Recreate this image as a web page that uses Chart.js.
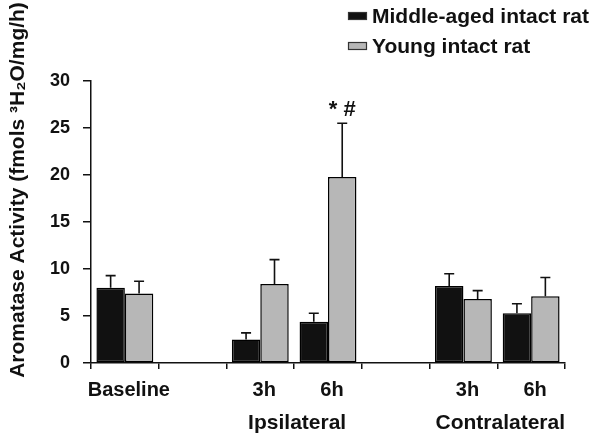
<!DOCTYPE html>
<html>
<head>
<meta charset="utf-8">
<script src="https://cdn.jsdelivr.net/npm/chart.js@4"></script>
<style>
html,body{margin:0;padding:0;background:#fff;}
#wrap{position:relative;width:600px;height:443px;}
</style>
</head>
<body>
<div id="wrap"><canvas id="c" width="600" height="443"></canvas></div>
<script>
const categories = ['Baseline', '', '3h', '6h', '', '3h', '6h'];
const groupLabels = [{text: 'Ipsilateral', at: 2.5}, {text: 'Contralateral', at: 5.5}];
const seriesNames = ['Middle-aged intact rat', 'Young intact rat'];
const middleAged = [8.0, null, 2.5, 4.4, null, 8.2, 5.3];
const middleAgedErr = [9.3, null, 3.2, 5.3, null, 9.5, 6.3];
const young = [7.4, null, 8.4, 19.8, null, 6.8, 7.1];
const youngErr = [8.7, null, 11.0, 25.5, null, 7.7, 9.1];
const yTicks = [0, 5, 10, 15, 20, 25, 30];
const yTitle = 'Aromatase Activity (fmols \u00B3H\u2082O/mg/h)';
const annotation = {text: '* #', at: 3, series: 1};

const FONT = '"Liberation Sans", Arial, sans-serif';
const colors = ['#111111', '#b7b7b7'];

const extras = {
  id: 'extras',
  afterDatasetsDraw(chart) {
    const ctx = chart.ctx;
    const y = chart.scales.y;
    const x = chart.scales.x;
    const errs = [middleAgedErr, youngErr];
    ctx.save();
    ctx.strokeStyle = '#111';
    ctx.lineWidth = 1.6;
    chart.data.datasets.forEach((ds, di) => {
      const meta = chart.getDatasetMeta(di);
      meta.data.forEach((bar, i) => {
        const v = ds.data[i];
        const e = errs[di][i];
        if (v == null || e == null) return;
        const bx = bar.x;
        const yt = y.getPixelForValue(e);
        const yb = y.getPixelForValue(v);
        ctx.beginPath();
        ctx.moveTo(bx, yb); ctx.lineTo(bx, yt);
        ctx.moveTo(bx - 5, yt); ctx.lineTo(bx + 5, yt);
        ctx.stroke();
      });
    });
    // annotation
    const meta = chart.getDatasetMeta(annotation.series);
    const bar = meta.data[annotation.at];
    ctx.fillStyle = '#111';
    ctx.font = 'bold 22px ' + FONT;
    ctx.textAlign = 'center';
    ctx.textBaseline = 'middle';
    ctx.fillText(annotation.text, bar.x, y.getPixelForValue(youngErr[annotation.at]) - 13);
    // group labels
    ctx.font = 'bold 21px ' + FONT;
    groupLabels.forEach(g => {
      ctx.fillText(g.text, x.getPixelForValue(g.at) + 3, 423);
    });
    // y title
    ctx.save();
    ctx.translate(18, 190);
    ctx.rotate(-Math.PI / 2);
    ctx.font = 'bold 21px ' + FONT;
    ctx.fillText(yTitle, 0, 0);
    ctx.restore();
    // legend
    ctx.textAlign = 'left';
    ctx.font = 'bold 21px ' + FONT;
    const items = [[colors[0], 16], [colors[1], 46]];
    items.forEach((it, i) => {
      ctx.fillStyle = it[0];
      ctx.fillRect(348, it[1] - 4, 19, 8);
      ctx.strokeStyle = '#333';
      ctx.lineWidth = 1.2;
      ctx.strokeRect(348.5, it[1] - 3.5, 18, 7);
      ctx.fillStyle = '#111';
      ctx.fillText(seriesNames[i], 372, it[1] + 1);
    });
    ctx.restore();
  }
};

new Chart(document.getElementById('c'), {
  type: 'bar',
  data: {
    labels: categories,
    datasets: [
      {label: seriesNames[0], data: middleAged, backgroundColor: colors[0], borderColor: '#000', borderWidth: 1.5, borderSkipped: false},
      {label: seriesNames[1], data: young, backgroundColor: colors[1], borderColor: '#000', borderWidth: 1.5, borderSkipped: false}
    ]
  },
  options: {
    responsive: false,
    animation: false,
    layout: {padding: {left: 0, right: 35, top: 81, bottom: 0}},
    plugins: {legend: {display: false}, tooltip: {enabled: false}},
    datasets: {bar: {categoryPercentage: 0.84, barPercentage: 1.0}},
    scales: {
      x: {
        grid: {display: true, drawOnChartArea: false, offset: true, color: '#111', tickLength: 6, lineWidth: 1.5},
        border: {color: '#111', width: 1.5},
        ticks: {color: '#111', font: {family: FONT, size: 20, weight: 'bold'}, padding: 9, labelOffset: 4, maxRotation: 0, autoSkip: false},
        afterFit(s) { s.height = 80; }
      },
      y: {
        min: 0, max: 30,
        afterBuildTicks(s) { s.ticks = yTicks.map(v => ({value: v})); },
        grid: {display: true, drawOnChartArea: false, color: '#111', tickLength: 8, lineWidth: 1.5},
        border: {color: '#111', width: 1.5},
        ticks: {color: '#111', font: {family: FONT, size: 18, weight: 'bold'}, padding: 13},
        title: {display: false},
        afterFit(s) { s.width = 91; }
      }
    }
  },
  plugins: [extras]
});
</script>
</body>
</html>
